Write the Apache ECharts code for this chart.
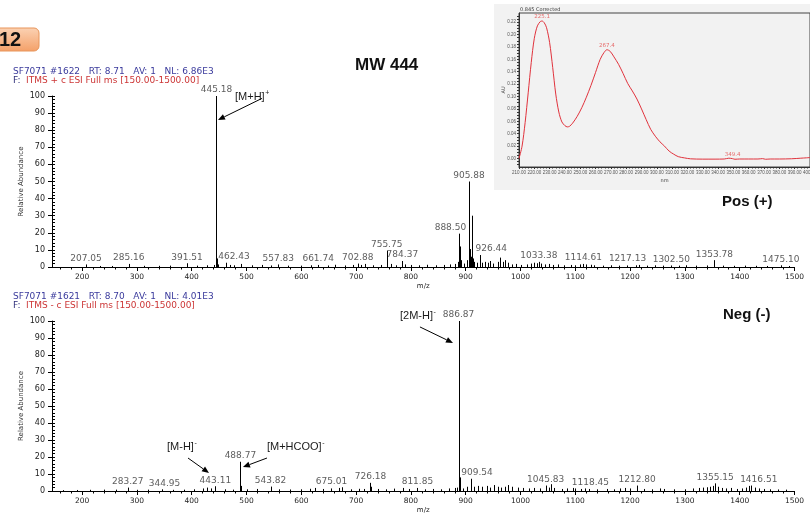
<!DOCTYPE html>
<html><head><meta charset="utf-8">
<script src="https://cdn.jsdelivr.net/npm/echarts@6/dist/echarts.min.js"></script>
<style>html,body{margin:0;padding:0;background:#fff}#c{width:810px;height:520px}</style>
</head><body><div id="c"></div>
<script>
// ---------- data ----------
const mzTicks = [200,300,400,500,600,700,800,900,1000,1100,1200,1300,1400,1500];
const mzMinorTicks = [];
for (let m = 160; m <= 1500; m += 20) mzMinorTicks.push(m);
const abundanceTicks = [0,10,20,30,40,50,60,70,80,90,100];

const posPeaks = [
[207.05,1.5],[233,0.6],[255,0.6],[285.16,1.8],[312,0.7],[340,0.7],[360,0.8],[391.51,2.2],[410,0.8],[428,1.0],[440,1.2],
[445.18,100],[446.2,5],[447.2,1.5],[462.43,2.5],[470,1.2],[478,1.0],[490,1.8],[510,1.0],[528,1.2],[545,0.9],[557.83,1.5],
[575,0.8],[600,0.8],[618,1.0],[630,1.2],[648,0.9],[661.74,1.3],[680,0.9],[695,1.2],[702.88,2.0],[708,1.2],[716,1.8],
[730,1.0],[745,1.2],[755.75,9.5],[757,2.5],[763,1.8],[772,1.0],[784.37,3.5],[790,1.5],[800,1.2],[815,1.0],[830,1.3],
[845,1.0],[860,1.2],[872,1.5],[880,1.8],[886,3],[888.50,19.5],[889.5,12],[890.5,4],[897,2],[903,4],[905.88,50],
[906.9,12],[908,10.5],[909,6],[910.9,30],[912,10],[913.5,5],[916,3],[920,2.5],[926.44,7],[930,2.5],[935,3],[940,2.5],
[945,3.5],[950,2],[958,3],[962,5.5],[968,3],[972,4],[978,2.5],[985,1.5],[992,1.8],[1000,1.2],[1012,1.5],[1020,2.0],
[1025,2.5],[1030,2.2],[1033.38,3.0],[1038,2.0],[1045,1.5],[1052,1.8],[1060,1.2],[1068,1.5],[1080,1.0],[1092,1.2],
[1100,1.0],[1108,1.5],[1114.61,1.8],[1120,1.5],[1128,1.3],[1135,1.0],[1150,0.8],[1165,1.0],[1180,0.8],[1195,0.9],
[1210,1.0],[1217.13,1.2],[1230,0.8],[1245,1.0],[1260,0.8],[1275,0.9],[1290,0.8],[1302.50,1.0],[1320,0.8],[1340,0.9],
[1353.78,4.0],[1370,0.8],[1390,0.7],[1410,0.8],[1430,0.7],[1450,0.6],[1475.10,1.0],[1490,0.6]
];
const posLabels = [207.05,285.16,391.51,445.18,462.43,557.83,661.74,702.88,755.75,784.37,888.50,905.88,926.44,1033.38,1114.61,1217.13,1302.50,1353.78,1475.10];

const negPeaks = [
[165,0.5],[190,0.6],[215,0.7],[240,0.8],[262,0.8],[283.27,2.0],[300,0.7],[320,0.8],[344.95,1.0],[365,0.7],[385,0.8],
[405,1.0],[420,1.5],[428,2.0],[436,1.5],[443.11,2.8],[460,1.0],[475,0.8],[488.77,17.2],[489.8,3.0],[500,1.0],[520,1.2],
[543.82,2.6],[560,1.0],[580,0.9],[600,1.0],[615,1.3],[625,1.8],[640,1.2],[655,1.5],[668,1.8],[675.01,2.2],[690,1.0],
[705,1.3],[715,1.2],[726.18,4.8],[728,2.5],[740,1.2],[755,1.0],[770,1.4],[785,1.8],[797,1.2],[811.85,1.8],[825,1.0],
[840,1.2],[855,1.0],[870,1.5],[880,1.8],[884,2.0],[886.87,100],[887.9,47],[888.9,8],[890,3],[895,1.5],[903,2.5],
[909.54,7.2],[915,2.5],[922,3],[930,2.5],[938,3],[945,2.0],[952,3.5],[958,2.5],[965,2.0],[972,2.5],[978,3.5],[985,2.5],
[995,2.0],[1005,1.8],[1015,1.5],[1025,1.8],[1035,1.5],[1045.83,3.2],[1052,2.0],[1056,4.0],[1062,1.8],[1075,1.2],
[1085,1.5],[1095,1.8],[1100,1.5],[1110,1.2],[1118.45,1.5],[1125,1.2],[1140,1.0],[1158,1.2],[1170,1.0],[1182,1.5],
[1190,1.8],[1200,1.5],[1212.80,3.2],[1225,1.2],[1240,1.0],[1255,1.5],[1262,1.2],[1280,1.0],[1300,1.0],[1315,1.5],
[1325,1.8],[1333,2.0],[1340,2.2],[1346,2.5],[1351,3.0],[1355.15,4.5],[1360,2.5],[1368,1.8],[1375,1.5],[1385,1.8],
[1395,1.2],[1405,1.5],[1412,2.0],[1416.51,3.0],[1420,3.2],[1428,2.0],[1435,1.5],[1445,1.2],[1455,1.0],[1470,0.9],[1485,0.8]
];
const negLabels = [283.27,344.95,443.11,488.77,543.82,675.01,726.18,811.85,886.87,909.54,1045.83,1118.45,1212.80,1355.15,1416.51];

const uvWavelength = [210,212,214,216,218,220,222,224,225.1,226.5,228,230,232,234,236,238,240,241.5,243,245,248,251,254,257,260,263,265.5,267.4,269.5,272,275,278,281,284,287,290,293,296,299,302,305,308,311,314,318,322,330,338,344,347,349.4,351,354,360,366,369,371,374,380,388,394,400];
const uvAbsorbance = [0.000,0.020,0.058,0.106,0.155,0.194,0.214,0.2212,0.2218,0.219,0.211,0.187,0.147,0.104,0.075,0.059,0.053,0.051,0.052,0.057,0.068,0.082,0.099,0.118,0.139,0.160,0.171,0.1755,0.173,0.164,0.152,0.137,0.121,0.109,0.096,0.080,0.063,0.047,0.036,0.027,0.020,0.012,0.007,0.003,0.001,-0.0005,-0.001,-0.001,-0.0008,0.0005,-0.0002,-0.0012,-0.0008,-0.0008,-0.0008,-0.0002,-0.0012,-0.0008,-0.0008,-0.0004,0.0005,0.0015];
const uvPeakLabels = [225.1,267.4,349.4];
const uvTicks = [0,0.02,0.04,0.06,0.08,0.10,0.12,0.14,0.16,0.18,0.20,0.22];
const uvMinorTicks = [];
for (let v = -0.01; v <= 0.231; v += 0.005) uvMinorTicks.push(+v.toFixed(3));

// label horizontal nudges (px) reproducing the instrument's label placement
const posNudge = [[462.43,8],[661.74,-17],[888.50,-9],[926.44,11],[1217.13,-12],[1302.50,-15]];
const negNudge = [[344.95,3],[675.01,-11],[909.54,6],[1118.45,5],[1416.51,10]];

// ---------- chart ----------
const FONT = '"DejaVu Sans", sans-serif';
const SANS = '"Liberation Sans", Arial, sans-serif';
const chart = echarts.init(document.getElementById('c'));

function peakVal(peaks, mz) { const p = peaks.find(q => Math.abs(q[0] - mz) < 0.001); return p ? p[1] : 0; }
function nudgeOf(list, mz) { const p = list.find(q => Math.abs(q[0] - mz) < 0.001); return p ? p[1] : 0; }

const stickSeries = (data, xi, yi) => ({
  type: 'custom', xAxisIndex: xi, yAxisIndex: yi, data: data, silent: true, clip: false,
  renderItem: (params, api) => {
    const b = api.coord([api.value(0), 0]);
    const t = api.coord([api.value(0), api.value(1)]);
    const x = Math.round(b[0]) + 0.5;
    return { type: 'line', shape: { x1: x, y1: b[1], x2: x, y2: t[1] }, style: { stroke: '#000', lineWidth: 1 } };
  }
});
const labelSeries = (labels, peaks, nudges, xi, yi) => ({
  type: 'scatter', xAxisIndex: xi, yAxisIndex: yi, symbolSize: 1, silent: true, z: 5,
  itemStyle: { color: 'rgba(0,0,0,0)' },
  data: labels.map(m => ({ value: [m, peakVal(peaks, m)], label: { offset: [nudgeOf(nudges, m), 0] } })),
  label: { show: true, position: 'top', distance: 1, formatter: p => p.value[0].toFixed(2),
           fontSize: 9, fontFamily: FONT, color: '#333' }
});
const mainX = gi => ({
  type: 'value', gridIndex: gi, min: 145, max: 1500, position: 'bottom',
  axisLine: { show: true, onZero: false, lineStyle: { color: '#000', width: 1 } },
  axisTick: { show: true, customValues: mzTicks, length: 4, lineStyle: { color: '#000' } },
  axisLabel: { show: true, customValues: mzTicks, fontSize: 7.5, fontFamily: FONT, color: '#222', margin: 6,
               formatter: v => String(v) },
  splitLine: { show: false },
  name: 'm/z', nameLocation: 'middle', nameGap: 16, nameTextStyle: { fontSize: 7, fontFamily: FONT, color: '#222' }
});
const minorX = gi => ({
  type: 'value', gridIndex: gi, min: 145, max: 1500, position: 'bottom',
  axisLine: { show: false, onZero: false },
  axisTick: { show: true, customValues: mzMinorTicks, length: 2.5, lineStyle: { color: '#000' } },
  axisLabel: { show: false }, splitLine: { show: false }
});
const mainY = gi => ({
  type: 'value', gridIndex: gi, min: 0, max: 100, interval: 10, position: 'left',
  axisLine: { show: true, lineStyle: { color: '#000' } },
  axisTick: { show: true, length: 4, lineStyle: { color: '#000' } },
  axisLabel: { fontSize: 8, fontFamily: FONT, color: '#222', margin: 7 },
  splitLine: { show: false },
  name: 'Relative Abundance', nameLocation: 'middle', nameGap: 27, nameRotate: 90, nameMoveOverlap: false,
  nameTextStyle: { fontSize: 7, fontFamily: FONT, color: '#333' }
});
const minorY = gi => ({
  type: 'value', gridIndex: gi, min: 0, max: 100, interval: 2, position: 'left',
  axisLine: { show: false }, axisTick: { show: true, inside: true, length: 3, lineStyle: { color: '#000' } },
  axisLabel: { show: false }, splitLine: { show: false }
});

chart.setOption({
  animation: false,
  backgroundColor: '#fff',
  grid: [
    { left: 52, right: 15.5, top: 96, bottom: 253, outerBoundsMode: 'none' },
    { left: 52, right: 15.5, top: 321, bottom: 29, outerBoundsMode: 'none' },
    { left: 519, right: 0, top: 13, bottom: 353, outerBoundsMode: 'none', show: true, borderColor: '#444', borderWidth: 1, backgroundColor: 'rgba(0,0,0,0)' }
  ],
  xAxis: [
    mainX(0), minorX(0), mainX(1), minorX(1),
    { type: 'value', gridIndex: 2, min: 210, max: 400, interval: 10, position: 'bottom',
      axisLine: { show: true, onZero: false, lineStyle: { color: '#333' } },
      axisTick: { show: true, length: 2, lineStyle: { color: '#333' } },
      minorTick: { show: true, splitNumber: 5, length: 1.5, lineStyle: { color: '#333' } },
      axisLabel: { fontSize: 4.5, fontFamily: SANS, color: '#555', margin: 3, formatter: v => v.toFixed(2) },
      splitLine: { show: false },
      name: 'nm', nameLocation: 'middle', nameGap: 11, nameTextStyle: { fontSize: 5, fontFamily: FONT, color: '#444' } }
  ],
  yAxis: [
    mainY(0), minorY(0), mainY(1), minorY(1),
    { type: 'value', gridIndex: 2, min: -0.0137, max: 0.2348, position: 'left',
      axisLine: { show: true, onZero: false, lineStyle: { color: '#333' } },
      axisTick: { show: true, customValues: uvMinorTicks, length: 2, lineStyle: { color: '#333' } },
      axisLabel: { customValues: uvTicks, fontSize: 4.5, fontFamily: SANS, color: '#555', margin: 3, formatter: v => v.toFixed(2) },
      splitLine: { show: false },
      name: 'AU', nameLocation: 'middle', nameGap: 13, nameRotate: 90, nameMoveOverlap: false,
      nameTextStyle: { fontSize: 5, fontFamily: FONT, color: '#444' } }
  ],
  series: [
    stickSeries(posPeaks, 0, 0),
    labelSeries(posLabels, posPeaks, posNudge, 0, 0),
    stickSeries(negPeaks, 2, 2),
    labelSeries(negLabels, negPeaks, negNudge, 2, 2),
    { type: 'line', xAxisIndex: 4, yAxisIndex: 4, silent: true, showSymbol: false, smooth: 0.3,
      data: uvWavelength.map((w, i) => [w, uvAbsorbance[i]]),
      lineStyle: { color: '#e0323c', width: 1 } },
    { type: 'scatter', xAxisIndex: 4, yAxisIndex: 4, symbolSize: 1, silent: true, z: 5,
      itemStyle: { color: 'rgba(0,0,0,0)' },
      data: uvPeakLabels.map(w => [w, uvAbsorbance[uvWavelength.indexOf(w)]]),
      label: { show: true, position: 'top', distance: 1, formatter: p => p.value[0].toFixed(1),
               fontSize: 5.5, fontFamily: FONT, color: '#e34848' } }
  ]
});

// ---------- annotations (positioned in data space) ----------
const ctx = document.createElement('canvas').getContext('2d');
function textW(t, font) { ctx.font = font; return ctx.measureText(t).width; }
function px(grid, x, y) { return chart.convertToPixel({ xAxisIndex: grid === 0 ? 0 : 2, yAxisIndex: grid === 0 ? 0 : 2 }, [x, y]); }
function txt(text, x, y, opts) {
  return Object.assign({ type: 'text', z: 10, style: Object.assign({ text: text, x: x, y: y, fill: '#111',
    textAlign: 'left', textVerticalAlign: 'middle', align: 'left', verticalAlign: 'middle' }, opts || {}) });
}
function ion(grid, base, sup, mz, val) {
  const p = px(grid, mz, val);
  const f = '11px ' + SANS;
  const w = textW(base, f);
  return [
    txt(base, p[0], p[1], { font: f, fill: '#1a1a1a' }),
    txt(sup, p[0] + w + 0.5, p[1] - 4, { font: '7px ' + SANS, fill: '#1a1a1a' })
  ];
}
function arrow(grid, x1, y1, x2, y2) {
  const a = px(grid, x1, y1), b = px(grid, x2, y2);
  const ang = Math.atan2(b[1] - a[1], b[0] - a[0]);
  const L = 7, W = 3;
  const hx = b[0] - L * Math.cos(ang), hy = b[1] - L * Math.sin(ang);
  const ox = -Math.sin(ang) * W, oy = Math.cos(ang) * W;
  return [
    { type: 'line', z: 10, shape: { x1: a[0], y1: a[1], x2: hx, y2: hy }, style: { stroke: '#000', lineWidth: 1 } },
    { type: 'polygon', z: 10, shape: { points: [[b[0], b[1]], [hx + ox, hy + oy], [hx - ox, hy - oy]] }, style: { fill: '#000' } }
  ];
}

const HF = '9px ' + FONT;
const graphics = [
  // inset panel background
  { type: 'rect', z: -1, shape: { x: 494, y: 4, width: 316, height: 186 }, style: { fill: '#f2f2f2' } },
  txt('0.845 Corrected', 520, 9.5, { font: '5px ' + FONT, fill: '#333' }),
  // figure number tab
  { type: 'rect', z: 9, shape: { x: -6, y: 28, width: 45, height: 23, r: 5 },
    style: { fill: new echarts.graphic.LinearGradient(0, 0, 0, 1, [{ offset: 0, color: '#fbd2b4' }, { offset: 1, color: '#f4a068' }]),
             stroke: '#e8955a', lineWidth: 1 } },
  txt('12', -1, 40, { font: 'bold 20px ' + SANS, fill: '#111' }),
  // headings
  txt('MW 444', 355, 65, { font: 'bold 17px ' + SANS, fill: '#111' }),
  txt('Pos (+)', 722, 202, { font: 'bold 15px ' + SANS, fill: '#111' }),
  txt('Neg (-)', 723, 315, { font: 'bold 15px ' + SANS, fill: '#111' }),
  // scan headers
  txt('SF7071 #1622   RT: 8.71   AV: 1   NL: 6.86E3', 13, 72, { font: HF, fill: '#3a3a9c' }),
  txt('F:', 13, 81, { font: HF, fill: '#2e2e7a' }),
  txt('ITMS + c ESI Full ms [150.00-1500.00]', 26, 81, { font: HF, fill: '#cc3535' }),
  txt('SF7071 #1621   RT: 8.70   AV: 1   NL: 4.01E3', 13, 297, { font: HF, fill: '#3a3a9c' }),
  txt('F:', 13, 306, { font: HF, fill: '#2e2e7a' }),
  txt('ITMS - c ESI Full ms [150.00-1500.00]', 26, 306, { font: HF, fill: '#cc3535' })
].concat(
  ion(0, '[M+H]', '+', 479, 99.4),
  arrow(0, 528.2, 98.6, 447.9, 86),
  ion(1, '[M-H]', '-', 354.9, 25.9),
  arrow(1, 393.2, 19.4, 431.5, 10.6),
  ion(1, '[M+HCOO]', '-', 537.3, 25.9),
  arrow(1, 537.3, 19.4, 493.5, 14.1),
  ion(1, '[2M-H]', '-', 780, 102.9),
  arrow(1, 816.5, 96.5, 876.8, 87.1)
);
chart.setOption({ graphic: graphics });
</script>
</body></html>
